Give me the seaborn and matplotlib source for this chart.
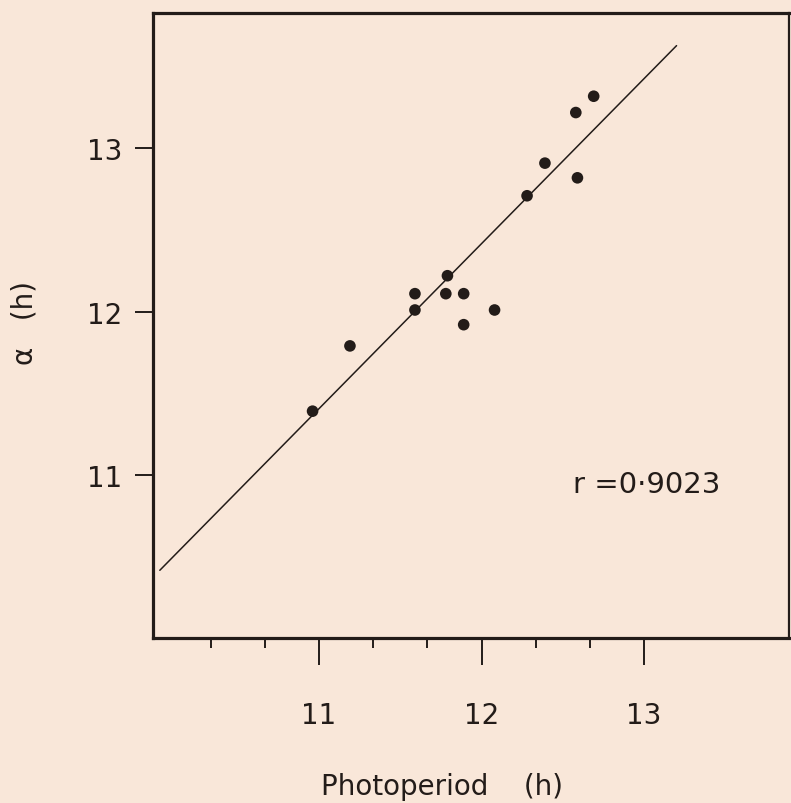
import matplotlib
matplotlib.use("Agg")
import matplotlib.pyplot as plt
import seaborn as sns
import pandas as pd
from matplotlib.ticker import FixedLocator

# data
photoperiod = [12.69, 12.58, 12.39, 12.59, 12.28, 11.79, 11.59, 11.78, 11.89, 11.59, 12.08, 11.89, 11.19, 10.96]
alpha_h = [13.32, 13.22, 12.91, 12.82, 12.71, 12.22, 12.11, 12.11, 12.11, 12.01, 12.01, 11.92, 11.79, 11.39]

# regression line end points as drawn
line_x = [10.02, 13.20]
line_y = [10.415, 13.63]

x_major = [11, 12, 13]
x_minor = [10.333, 10.667, 11.333, 11.667, 12.333, 12.667]
y_major = [11, 12, 13]
r_text = "r =0·9023"

bg = "#f9e7d9"
ink = "#231c19"

sns.set_theme(style="ticks")
plt.rcParams['font.family'] = ['DejaVu Sans']

points = pd.DataFrame({'Photoperiod': photoperiod, 'Alpha': alpha_h})
line = pd.DataFrame({'x': line_x, 'y': line_y})

fig = plt.figure(figsize=(7.91, 8.04), dpi=100, facecolor=bg)
ax = fig.add_axes([153 / 791, 1 - 639 / 804, 636 / 791, 625 / 804])
ax.set_facecolor(bg)

sns.lineplot(x='x', y='y', data=line, color=ink, linewidth=1.1, ax=ax)
sns.scatterplot(x='Photoperiod', y='Alpha', data=points, color=ink, s=70,
                edgecolor='none', zorder=3, ax=ax)

ax.set_xlim(9.978, 13.892)
ax.set_ylim(10.0, 13.83)

ax.xaxis.set_major_locator(FixedLocator(x_major))
ax.xaxis.set_minor_locator(FixedLocator(x_minor))
ax.yaxis.set_major_locator(FixedLocator(y_major))
ax.set_xticklabels([str(v) for v in x_major])
ax.set_yticklabels([str(v) for v in y_major])

ax.tick_params(axis='x', which='major', direction='out', length=19.5, width=1.4,
               color=ink, labelcolor=ink, labelsize=20, pad=26)
ax.tick_params(axis='x', which='minor', direction='out', length=7, width=1.4, color=ink)
ax.tick_params(axis='y', which='major', direction='out', length=13, width=1.4,
               color=ink, labelcolor=ink, labelsize=20, pad=9)

for side in ['left', 'bottom', 'top']:
    ax.spines[side].set_linewidth(2.3)
    ax.spines[side].set_color(ink)
ax.spines['right'].set_linewidth(1.6)
ax.spines['right'].set_color(ink)

ax.set_xlabel('')
ax.set_ylabel('')

ax.text(12.563, 10.946, r_text, ha='left', va='center', fontsize=21, color=ink)

fig.text(442 / 791, 1 - 795 / 804, 'Photoperiod    (h)', ha='center', va='baseline',
         fontsize=20, color=ink)
fig.text(25 / 791, 1 - 323 / 804, 'α   (h)', ha='center', va='center', rotation=90,
         fontsize=20, color=ink)

fig.savefig('out.png', dpi=100, facecolor=bg)
